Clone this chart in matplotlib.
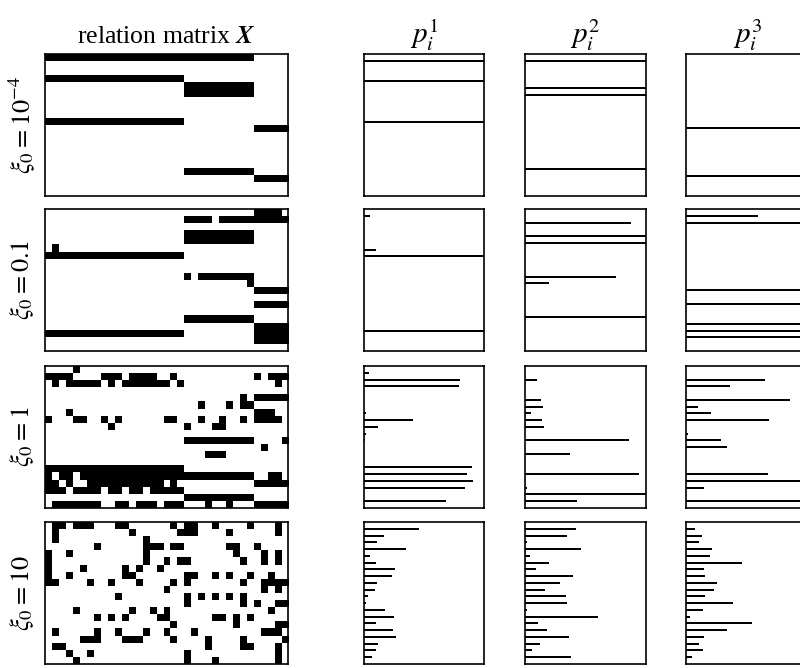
import numpy as np
import matplotlib
matplotlib.use("Agg")
import matplotlib.pyplot as plt

plt.rcParams['font.family'] = ['Liberation Serif', 'DejaVu Serif']
plt.rcParams['mathtext.fontset'] = 'stix'

N_ROWS = 20
N_COLS = 35

# black cells of each relation matrix: row -> list of column ranges (inclusive)
X_1e4 = {0: [(0, 29)], 3: [(0, 19)], 4: [(20, 29)], 5: [(20, 29)], 9: [(0, 19)],
         10: [(30, 34)], 16: [(20, 29)], 17: [(30, 34)]}
X_01 = {0: [(30, 33)], 1: [(20, 23), (25, 34)], 3: [(20, 29)], 4: [(20, 29)],
        5: [(1, 1)], 6: [(0, 19)], 9: [(20, 20), (22, 29)], 10: [(29, 29)],
        11: [(30, 34)], 13: [(30, 34)], 15: [(20, 29)], 16: [(30, 34)],
        17: [(0, 19), (30, 34)], 18: [(30, 34)]}
X_1 = {0: [(4, 4)],
       1: [(0, 3), (8, 10), (12, 15), (18, 18), (30, 30), (32, 34)],
       2: [(1, 1), (3, 7), (9, 9), (11, 17), (19, 19), (33, 33)],
       4: [(28, 28), (30, 34)],
       5: [(22, 22), (26, 26), (28, 29)],
       6: [(3, 3), (30, 32)],
       7: [(0, 0), (4, 5), (8, 8), (10, 10), (17, 18), (22, 22), (25, 25), (28, 28), (30, 33)],
       8: [(9, 9), (20, 20), (24, 25)],
       10: [(20, 29), (34, 34)],
       11: [(31, 31)],
       12: [(23, 25)],
       14: [(0, 19)],
       15: [(0, 0), (2, 3), (5, 19), (20, 29), (32, 33)],
       16: [(0, 1), (3, 3), (6, 16), (18, 18), (30, 34)],
       17: [(0, 2), (4, 7), (9, 10), (12, 13), (15, 19)],
       18: [(20, 29)],
       19: [(1, 7), (10, 11), (13, 15), (17, 19), (23, 23), (26, 26), (30, 34)]}
X_10 = {0: [(1, 2), (4, 6), (10, 11), (18, 18), (20, 21), (24, 24), (29, 29), (33, 33)],
        1: [(1, 1), (12, 12), (19, 21), (26, 26), (33, 33)],
        2: [(1, 1), (14, 14)],
        3: [(7, 7), (14, 16), (18, 19), (26, 27), (30, 30)],
        4: [(0, 0), (3, 3), (14, 14), (27, 27), (31, 31), (33, 33)],
        5: [(0, 0), (14, 14), (17, 17), (19, 20), (28, 28), (31, 31), (33, 33)],
        6: [(0, 0), (5, 5), (11, 11), (13, 13), (16, 16)],
        7: [(0, 0), (3, 3), (11, 12), (20, 21), (24, 24), (26, 26), (29, 29), (32, 32)],
        8: [(0, 1), (6, 6), (9, 9), (13, 13), (18, 18), (20, 20), (28, 28), (31, 34)],
        9: [(17, 17), (31, 31), (33, 33)],
        10: [(10, 10), (20, 20), (22, 22), (24, 24), (26, 26), (28, 28)],
        11: [(20, 20), (28, 28), (30, 30), (33, 34)],
        12: [(4, 4), (12, 12), (15, 15), (17, 17), (32, 32)],
        13: [(7, 7), (9, 9), (11, 11), (16, 17), (24, 25), (27, 27), (29, 29)],
        14: [(18, 18), (27, 27), (33, 34)],
        15: [(1, 1), (7, 7), (10, 10), (14, 14), (17, 17), (21, 21), (31, 33)],
        16: [(5, 7), (11, 13), (18, 18), (23, 23), (28, 28), (34, 34)],
        17: [(1, 2), (23, 23), (28, 29), (33, 33)],
        18: [(3, 3), (6, 6), (20, 20), (33, 33)],
        19: [(4, 4), (20, 20), (24, 24), (33, 33)]}

# p_i^k values per row (20 entities)
P1_1e4 = [1, 0, 0, 1, 0, 0, 0, 0, 0, 1, 0, 0, 0, 0, 0, 0, 0, 0, 0, 0]
P2_1e4 = [1, 0, 0, 0, 1, 1, 0, 0, 0, 0, 0, 0, 0, 0, 0, 0, 1, 0, 0, 0]
P3_1e4 = [0, 0, 0, 0, 0, 0, 0, 0, 0, 0, 1, 0, 0, 0, 0, 0, 0, 1, 0, 0]

P1_01 = [0.05, 0, 0, 0, 0, 0.1, 1, 0, 0, 0, 0, 0, 0, 0, 0, 0, 0, 1, 0, 0]
P2_01 = [0, 0.88, 0, 1, 1, 0, 0, 0, 0, 0.75, 0.2, 0, 0, 0, 0, 1, 0, 0, 0, 0]
P3_01 = [0.6, 1, 0, 0, 0, 0, 0, 0, 0, 0, 0, 1, 0, 1, 0, 0, 1, 1, 1, 0]

P1_1 = [0.04, 0.80, 0.79, 0, 0, 0, 0.02, 0.41, 0.12, 0.015, 0.01, 0, 0, 0, 0.90, 0.86, 0.91, 0.84, 0, 0.68]
P2_1 = [0, 0.10, 0, 0, 0.13, 0.15, 0.05, 0.14, 0.155, 0, 0.86, 0, 0.37, 0, 0, 0.94, 0, 0.02, 1.0, 0.43]
P3_1 = [0, 0.66, 0.37, 0, 0.87, 0.10, 0.21, 0.69, 0, 0.02, 0.29, 0.34, 0, 0, 0, 0.68, 1.0, 0.15, 0, 1.0]

P1_10 = [0.46, 0.17, 0.11, 0.35, 0.05, 0.10, 0.26, 0.23, 0.11, 0.09, 0.03, 0.02, 0.175, 0.25, 0.10, 0.245, 0.265, 0.12, 0.10, 0.07]
P2_10 = [0.42, 0.35, 0.02, 0.46, 0.04, 0.20, 0.09, 0.40, 0.29, 0.165, 0.34, 0.35, 0.02, 0.60, 0.11, 0.185, 0.36, 0.12, 0.06, 0.38]
P3_10 = [0.075, 0.13, 0.11, 0.22, 0.20, 0.47, 0.15, 0.16, 0.26, 0.23, 0.16, 0.39, 0.14, 0.03, 0.55, 0.34, 0.15, 0.105, 0.145, 0.05]

ROW_LABELS = [r'$\xi_0 = 10^{-4}$', r'$\xi_0 = 0.1$', r'$\xi_0 = 1$', r'$\xi_0 = 10$']
COL_TITLES = [r'relation matrix $\mathbfit{X}$', r'$p_i^1$', r'$p_i^2$', r'$p_i^3$']

MATRICES = [X_1e4, X_01, X_1, X_10]
PVALS = [[P1_1e4, P2_1e4, P3_1e4], [P1_01, P2_01, P3_01],
         [P1_1, P2_1, P3_1], [P1_10, P2_10, P3_10]]


def to_array(spec):
    a = np.zeros((N_ROWS, N_COLS))
    for r, ranges in spec.items():
        for c0, c1 in ranges:
            a[r, c0:c1 + 1] = 1
    return a


W, H = 800, 668
fig = plt.figure(figsize=(W / 100, H / 100), dpi=100)

tops = [54, 209, 366, 522]
ph = 142
col_x = [(45, 243), (364, 120), (525, 121), (686, 124)]

for i in range(4):
    y0 = 1 - (tops[i] + ph) / H
    for j in range(4):
        x, w = col_x[j]
        ax = fig.add_axes([x / W, y0, w / W, ph / H])
        if j == 0:
            ax.imshow(to_array(MATRICES[i]), cmap='gray_r', vmin=0, vmax=1,
                      aspect='auto', interpolation='nearest')
        else:
            vals = PVALS[i][j - 1]
            xmax = 1.0 if j < 3 else 124 / 120
            ax.barh(np.arange(N_ROWS), vals, height=0.3, color='black')
            ax.set_xlim(0, xmax)
            ax.set_ylim(N_ROWS, -1)
        ax.set_xticks([])
        ax.set_yticks([])
        for s in ax.spines.values():
            s.set_linewidth(1.2)
            s.set_color('black')
        if i == 0:
            fs = 18.5 if j == 0 else 21
            ax.set_title(COL_TITLES[j], fontsize=fs, pad=8)
    fig.text(22 / W, 1 - (tops[i] + ph / 2) / H, ROW_LABELS[i], rotation=90,
             ha='center', va='center', fontsize=19)

fig.savefig('out.png', dpi=100)
